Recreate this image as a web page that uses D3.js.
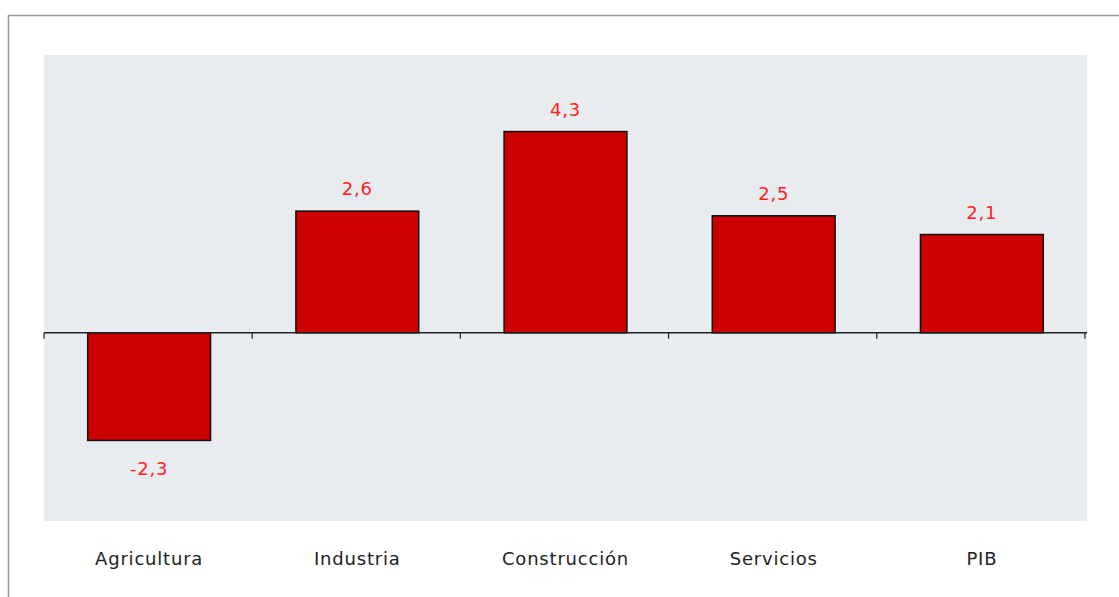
<!DOCTYPE html>
<html lang="es">
<head>
<meta charset="UTF-8">
<title>Crecimiento por sector</title>
<script src="https://cdn.jsdelivr.net/npm/d3@7"></script>
<style>
    body{margin:0;background:#fff;}
    text{font-family:"DejaVu Sans",sans-serif;}
</style>
</head>
<body>
<div class="container"></div>
<script>
    // data
    const sectores = ["Agricultura","Industria","Construcción","Servicios","PIB"]
    const valores  = [-2.3, 2.6, 4.3, 2.5, 2.1]
    const yDominio = [-4, 6]

    const W = 1119, H = 597
    const plot = {left:44, right:1087, top:55, bottom:521}

    const svg = d3.select(".container").append("svg")
        .attr("width",W).attr("height",H)

    // outer frame
    svg.append("rect")
        .attr("x",8.5).attr("y",15.5)
        .attr("width",W+20).attr("height",H+20)
        .attr("fill","none").attr("stroke","#999").attr("stroke-width",1.5)

    // plot background
    svg.append("rect")
        .attr("x",plot.left).attr("y",plot.top)
        .attr("width",plot.right-plot.left).attr("height",plot.bottom-plot.top)
        .attr("fill","#e9ecef")

    const x = d3.scaleBand().domain(sectores)
        .range([plot.left,plot.right]).paddingInner(0.41).paddingOuter(0.21)
    const y = d3.scaleLinear().domain(yDominio).range([520,52])

    const fmt = v => d3.format(".1f")(v).replace(".",",").replace("−","-")

    // bars
    svg.selectAll(".bar").data(valores).join("rect")
        .attr("class","bar")
        .attr("x",(d,i)=>x(sectores[i]))
        .attr("width",x.bandwidth())
        .attr("y",d=>y(Math.max(0,d)))
        .attr("height",d=>Math.abs(y(d)-y(0)))
        .attr("fill","#cc0000").attr("stroke","#111").attr("stroke-width",1.5)

    // zero axis with ticks at category boundaries
    const bordes = d3.range(sectores.length+1).map(i=>plot.left+i*x.step())
    svg.append("line")
        .attr("x1",plot.left).attr("x2",plot.right)
        .attr("y1",y(0)).attr("y2",y(0))
        .attr("stroke","#222").attr("stroke-width",1.5)
    svg.selectAll(".tick").data(bordes).join("line")
        .attr("x1",d=>d).attr("x2",d=>d)
        .attr("y1",y(0)).attr("y2",y(0)+6)
        .attr("stroke","#222").attr("stroke-width",1.2)

    // value labels
    svg.selectAll(".val").data(valores).join("text")
        .attr("x",(d,i)=>x(sectores[i])+x.bandwidth()/2)
        .attr("y",d=>d>=0 ? y(d)-16 : y(d)+35)
        .attr("text-anchor","middle")
        .attr("font-size","18px").attr("letter-spacing","0.8px").attr("fill","#ff2020")
        .text(d=>fmt(d))

    // category labels
    svg.selectAll(".cat").data(sectores).join("text")
        .attr("x",d=>x(d)+x.bandwidth()/2)
        .attr("y",565)
        .attr("text-anchor","middle")
        .attr("font-size","18px").attr("letter-spacing","0.8px").attr("fill","#222")
        .text(d=>d)
</script>
</body>
</html>
